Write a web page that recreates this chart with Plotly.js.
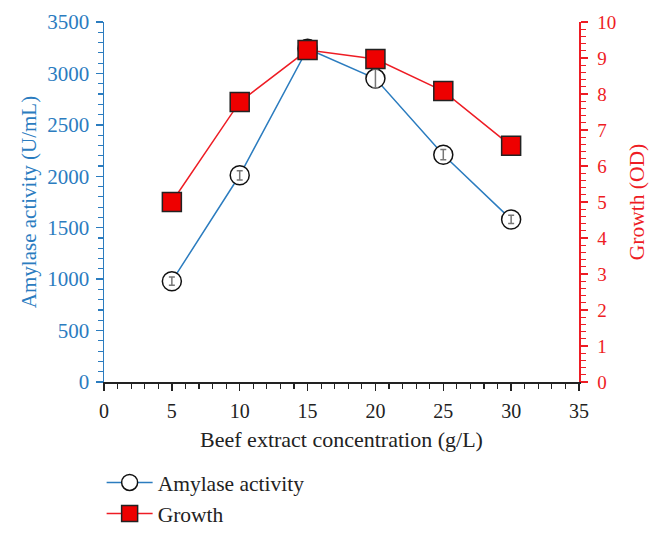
<!DOCTYPE html>
<html>
<head>
<meta charset="utf-8">
<script src="https://cdn.plot.ly/plotly-3.0.1.min.js"></script>
<style>html,body{margin:0;padding:0;background:#fff}#chart{width:661px;height:533px}</style>
</head>
<body>
<div id="chart"></div>
<script>
const concentration = [5, 10, 15, 20, 25, 30];
const amylaseActivity = [980, 2010, 3240, 2950, 2210, 1580];
const amylaseError = [40, 45, 40, 90, 50, 40];
const growthOD = [5.0, 7.78, 9.22, 8.97, 8.08, 6.56];
const xTicks = [0, 5, 10, 15, 20, 25, 30, 35];
const y1Ticks = [0, 500, 1000, 1500, 2000, 2500, 3000, 3500];
const y2Ticks = [0, 1, 2, 3, 4, 5, 6, 7, 8, 9, 10];

const BLUE = '#2b7cbf';
const RED = '#ee1c24';
const FONT = 'Liberation Serif, Times New Roman, serif';

const traces = [
  {
    x: concentration, y: amylaseActivity, name: 'Amylase activity',
    mode: 'lines+markers', yaxis: 'y',
    line: {color: BLUE, width: 1.5},
    marker: {symbol: 'circle', size: 19, color: 'rgba(255,255,255,1)', line: {color: '#111', width: 1.5}}
  },
  {
    x: concentration, y: amylaseActivity, name: 'err', showlegend: false,
    mode: 'markers', yaxis: 'y', hoverinfo: 'skip',
    marker: {size: 1, color: 'rgba(0,0,0,0)'},
    error_y: {type: 'data', array: amylaseError, visible: true, color: '#777', thickness: 1.5, width: 3}
  },
  {
    x: concentration, y: growthOD, name: 'Growth',
    mode: 'lines+markers', yaxis: 'y2',
    line: {color: RED, width: 1.5},
    marker: {symbol: 'square', size: 19, color: '#ee0000', line: {color: '#222', width: 1.5}}
  }
];

const layout = {
  width: 661, height: 533,
  margin: {l: 104, r: 82, t: 22, b: 151, autoexpand: false},
  paper_bgcolor: '#fff', plot_bgcolor: '#fff',
  font: {family: FONT, size: 21, color: '#222'},
  showlegend: true,
  legend: {x: -0.005, y: -0.2222, xanchor: 'left', yanchor: 'top', bgcolor: 'rgba(0,0,0,0)',
           font: {family: FONT, size: 21.5, color: '#222'}, tracegroupgap: 0, itemwidth: 46},
  xaxis: {
    range: [0, 35], tickvals: xTicks, ticktext: xTicks.map(String), automargin: false,
    showgrid: false, zeroline: false, showline: true, linecolor: '#222', linewidth: 1.5,
    ticks: 'outside', ticklen: 7, tickwidth: 1.5, tickcolor: '#222', ticklabelstandoff: 3,
    minor: {dtick: 1, ticks: 'outside', ticklen: 5, tickwidth: 1.2, tickcolor: '#222', showgrid: false},
    tickfont: {family: FONT, size: 20, color: '#222'},
    title: {text: 'Beef extract concentration (g/L)', font: {family: FONT, size: 22, color: '#222'}, standoff: 11}
  },
  yaxis: {
    range: [0, 3500], tickvals: y1Ticks, ticktext: y1Ticks.map(String), automargin: false,
    showgrid: false, zeroline: false, showline: true, linecolor: BLUE, linewidth: 1.5,
    ticks: 'outside', ticklen: 7, tickwidth: 1.5, tickcolor: BLUE, ticklabelstandoff: 2,
    minor: {dtick: 100, ticks: 'outside', ticklen: 5, tickwidth: 1.2, tickcolor: BLUE, showgrid: false},
    tickfont: {family: FONT, size: 21, color: BLUE},
    title: {text: 'Amylase activity (U/mL)', font: {family: FONT, size: 21, color: BLUE}, standoff: 5}
  },
  yaxis2: {
    range: [0, 10], tickvals: y2Ticks, ticktext: y2Ticks.map(String), automargin: false,
    overlaying: 'y', side: 'right',
    showgrid: false, zeroline: false, showline: true, linecolor: RED, linewidth: 1.5,
    ticks: 'outside', ticklen: 7, tickwidth: 1.5, tickcolor: RED, ticklabelstandoff: 6,
    minor: {dtick: 0.2, ticks: 'outside', ticklen: 5, tickwidth: 1.2, tickcolor: RED, showgrid: false},
    tickfont: {family: FONT, size: 19, color: RED},
    title: {text: 'Growth (OD)', font: {family: FONT, size: 21.5, color: RED}, standoff: 13}
  }
};

Plotly.newPlot('chart', traces, layout, {displayModeBar: false, staticPlot: true});
</script>
</body>
</html>
